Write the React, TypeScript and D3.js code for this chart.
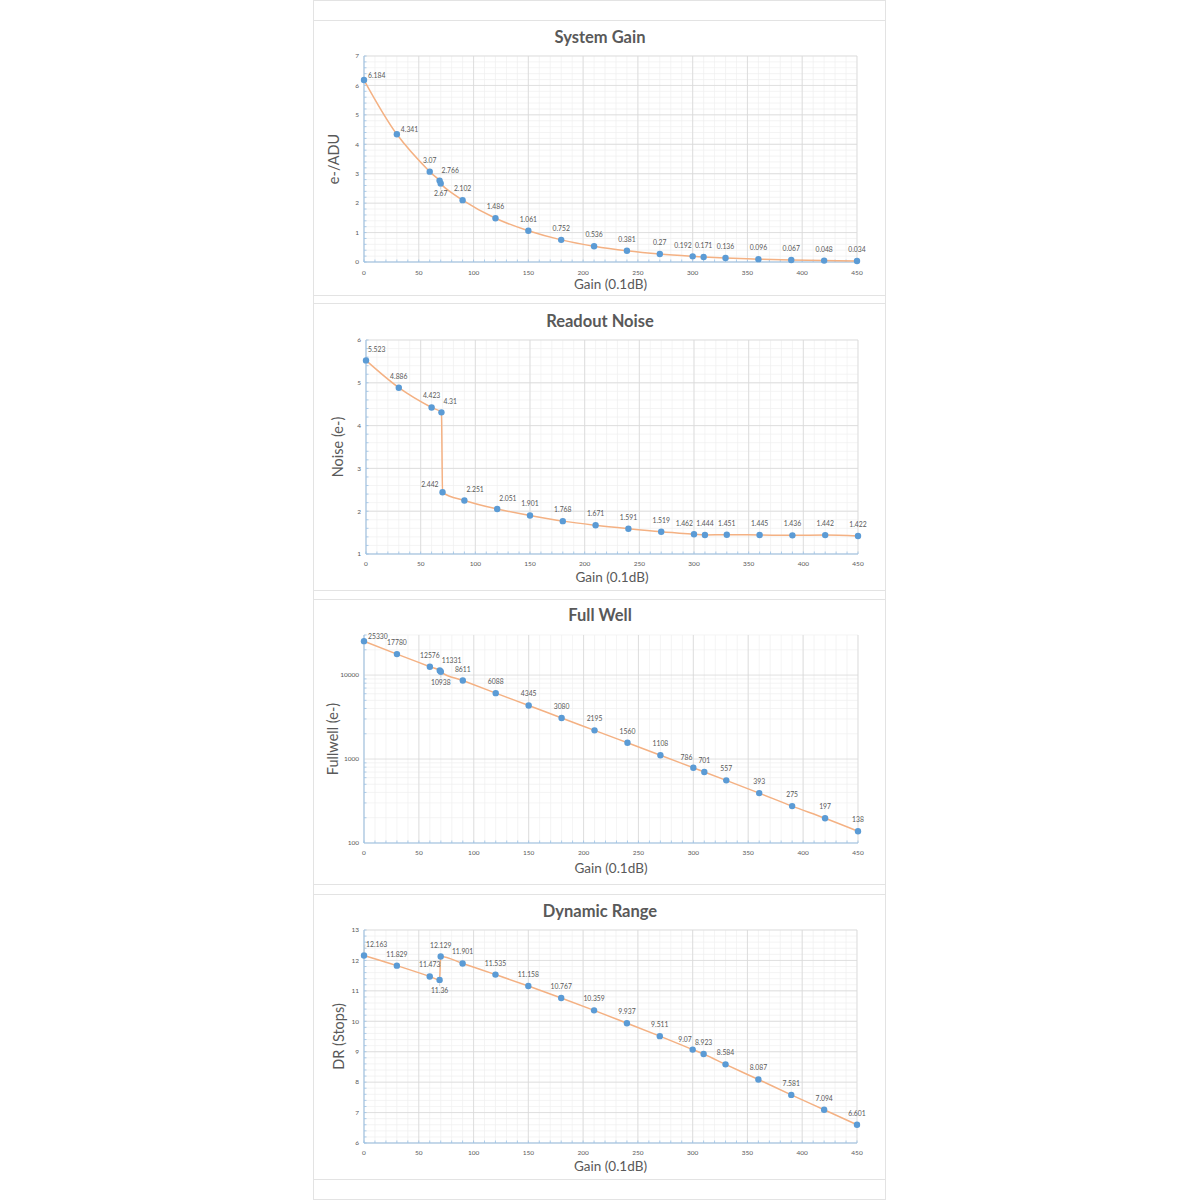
import React from 'react';
import * as d3 from 'd3';

// gain setting in 0.1 dB steps, shared by all four charts
const gainSteps = [0, 30, 60, 69, 70, 90, 120, 150, 180, 210, 240, 270, 300, 310, 330, 360, 390, 420, 450];

const systemGain = [6.184, 4.341, 3.07, 2.766, 2.67, 2.102, 1.486, 1.061, 0.752, 0.536, 0.381, 0.27, 0.192, 0.171, 0.136, 0.096, 0.067, 0.048, 0.034];
const readoutNoise = [5.523, 4.886, 4.423, 4.31, 2.442, 2.251, 2.051, 1.901, 1.768, 1.671, 1.591, 1.519, 1.462, 1.444, 1.451, 1.445, 1.436, 1.442, 1.422];
const fullWell = [25330, 17780, 12576, 11331, 10938, 8611, 6088, 4345, 3080, 2195, 1560, 1108, 786, 701, 557, 393, 275, 197, 138];
const dynamicRange = [12.163, 11.829, 11.473, 11.36, 12.129, 11.901, 11.535, 11.158, 10.767, 10.359, 9.937, 9.511, 9.07, 8.923, 8.584, 8.087, 7.581, 7.094, 6.601];

const xTicks = [0, 50, 100, 150, 200, 250, 300, 350, 400, 450];
const gainTicks = [0, 1, 2, 3, 4, 5, 6, 7];
const noiseTicks = [1, 2, 3, 4, 5, 6];
const wellTicks = [100, 1000, 10000];
const drTicks = [6, 7, 8, 9, 10, 11, 12, 13];

const FONT = 'Lato, "Open Sans", sans-serif';
const TEXT = '#595959';
const LINE = '#f4b183';
const DOT = '#5b9bd5';
const AXIS = '#9dc3e6';

// where a data label sits relative to its point (default: above)
type Place = 'a' | 'r' | 'ar' | 'al' | 'b' | 'l';

function Chart(props: any) {
  const { title, yLabel, values, ticks, log, panel, plot, titleY, tickY, xLabelY, yLabelX, places, leaders, smooth } = props;

  const x = d3.scaleLinear().domain([0, 450]).range([plot.left, plot.right]);
  const y = log
    ? d3.scaleLog().domain([100, 30000]).range([plot.bottom, plot.top])
    : d3.scaleLinear().domain([ticks[0], ticks[ticks.length - 1]]).range([plot.bottom, plot.top]);

  const pts = gainSteps.map((g, i) => [x(g), y(values[i])] as [number, number]);
  const line = d3.line().curve(smooth ? d3.curveCatmullRom.alpha(0.5) : d3.curveMonotoneX)(pts);

  const minorX = d3.range(0, 451, 10);
  let minorY: number[];
  if (log) {
    minorY = [];
    [100, 1000, 10000].forEach(p => { for (let k = 2; k <= 9; k++) if (p * k <= 30000) minorY.push(p * k); });
  } else {
    minorY = d3.range(ticks[0], ticks[ticks.length - 1] + 0.001, 0.2);
  }

  const labelPos = (i: number) => {
    const [px, py] = pts[i];
    const p: Place = (places && places[i]) || 'a';
    if (p === 'r') return { x: px + 4, y: py - 2, anchor: 'start' };
    if (p === 'ar') return { x: px + 2, y: py - 8, anchor: 'start' };
    if (p === 'al') return { x: px - 1, y: py - 8, anchor: 'end' };
    if (p === 'b') return { x: px, y: py + 13, anchor: 'middle' };
    if (p === 'l') return { x: px - 4, y: py - 5, anchor: 'end' };
    return { x: px, y: py - 9, anchor: 'middle' };
  };

  return (
    <g>
      <rect x={313.5} y={panel[0] + 0.5} width={572} height={panel[1] - panel[0]} fill="#fff" stroke="#e3e3e3" />
      <text x={600} y={titleY} textAnchor="middle" fontFamily={FONT} fontWeight="bold" fontSize={16.5} fill={TEXT}>{title}</text>

      {/* gridlines */}
      {minorX.map(v => (
        <line key={'mx' + v} x1={x(v)} x2={x(v)} y1={plot.top} y2={plot.bottom} stroke="#efefef" strokeWidth={0.7} />
      ))}
      {minorY.map(v => (
        <line key={'my' + v} x1={plot.left} x2={plot.right} y1={y(v)} y2={y(v)} stroke="#efefef" strokeWidth={0.7} />
      ))}
      {xTicks.map(v => (
        <line key={'gx' + v} x1={x(v)} x2={x(v)} y1={plot.top} y2={plot.bottom} stroke="#d9d9d9" strokeWidth={0.8} />
      ))}
      {ticks.map((v: number) => (
        <line key={'gy' + v} x1={plot.left} x2={plot.right} y1={y(v)} y2={y(v)} stroke="#d9d9d9" strokeWidth={0.8} />
      ))}

      {/* axes with inside minor ticks */}
      <line x1={plot.left} x2={plot.left} y1={plot.top} y2={plot.bottom} stroke={AXIS} strokeWidth={1} />
      <line x1={plot.left} x2={plot.right} y1={plot.bottom} y2={plot.bottom} stroke={AXIS} strokeWidth={1} />
      {minorX.map(v => (
        <line key={'tx' + v} x1={x(v)} x2={x(v)} y1={plot.bottom} y2={plot.bottom - 2.5} stroke={AXIS} strokeWidth={0.8} />
      ))}
      {minorY.map(v => (
        <line key={'ty' + v} x1={plot.left} x2={plot.left + 2.5} y1={y(v)} y2={y(v)} stroke={AXIS} strokeWidth={0.8} />
      ))}

      {xTicks.map(v => (
        <text key={'lx' + v} x={x(v)} y={tickY} textAnchor="middle" fontFamily={FONT} fontSize={6.5} fill={TEXT}>{v}</text>
      ))}
      {ticks.map((v: number) => (
        <text key={'ly' + v} x={plot.left - 5} y={y(v) + 2.3} textAnchor="end" fontFamily={FONT} fontSize={6.5} fill={TEXT}>{v}</text>
      ))}

      <text x={(plot.left + plot.right) / 2} y={xLabelY} textAnchor="middle" fontFamily={FONT} fontSize={13.5} fill={TEXT}>Gain (0.1dB)</text>
      <text
        transform={`translate(${yLabelX},${(plot.top + plot.bottom) / 2}) rotate(-90)`}
        textAnchor="middle"
        dominantBaseline="central"
        fontFamily={FONT}
        fontSize={14.5}
        fill={TEXT}
      >{yLabel}</text>

      <path d={line || ''} fill="none" stroke={LINE} strokeWidth={1.5} />
      {pts.map(([px, py], i) => (
        <circle key={'p' + i} cx={px} cy={py} r={3.2} fill={DOT} />
      ))}

      {pts.map((_, i) => {
        const l = labelPos(i);
        const below = l.y > pts[i][1];
        return (
          <g key={'d' + i}>
            {leaders && leaders.includes(i) && (
              <line x1={pts[i][0]} y1={pts[i][1] + (below ? 3 : -3)} x2={l.x + (l.anchor === 'start' ? -1 : 0)} y2={l.y + (below ? -7 : -3)} stroke="#bfbfbf" strokeWidth={0.6} />
            )}
            <text x={l.x} y={l.y} textAnchor={l.anchor} fontFamily={FONT} fontSize={6.8} fill={TEXT}>{String(values[i])}</text>
          </g>
        );
      })}
    </g>
  );
}

export default function App() {
  return (
    <svg width={1200} height={1200} style={{ position: 'absolute', left: 0, top: 0, background: '#fff' }}>
      <rect x={313.5} y={0.5} width={572} height={1199} fill="#fff" stroke="#e3e3e3" />
      <Chart
        title="System Gain" yLabel="e-/ADU" values={systemGain} ticks={gainTicks} smooth
        panel={[20, 295]} plot={{ left: 364, right: 857, top: 56, bottom: 262 }}
        titleY={43} tickY={274.5} xLabelY={289} yLabelX={333}
        places={{ 0: 'r', 1: 'r', 3: 'ar', 4: 'b', 12: 'al' }} leaders={[4]}
      />
      <Chart
        title="Readout Noise" yLabel="Noise (e-)" values={readoutNoise} ticks={noiseTicks}
        panel={[303, 590]} plot={{ left: 366, right: 858, top: 340, bottom: 554 }}
        titleY={327} tickY={565.5} xLabelY={582} yLabelX={337}
        places={{ 0: 'ar', 3: 'ar', 4: 'l', 5: 'ar', 6: 'ar', 12: 'al' }}
      />
      <Chart
        title="Full Well" yLabel="Fullwell (e-)" values={fullWell} ticks={wellTicks} log
        panel={[599, 884]} plot={{ left: 364, right: 858, top: 635, bottom: 843 }}
        titleY={621} tickY={854.5} xLabelY={873} yLabelX={332}
        places={{ 0: 'r', 3: 'ar', 4: 'b', 12: 'al' }} leaders={[4]}
      />
      <Chart
        title="Dynamic Range" yLabel="DR (Stops)" values={dynamicRange} ticks={drTicks}
        panel={[894, 1179]} plot={{ left: 364, right: 857, top: 930, bottom: 1143 }}
        titleY={917} tickY={1154.5} xLabelY={1171} yLabelX={338}
        places={{ 0: 'ar', 3: 'b', 12: 'al' }} leaders={[0, 3]}
      />
    </svg>
  );
}
